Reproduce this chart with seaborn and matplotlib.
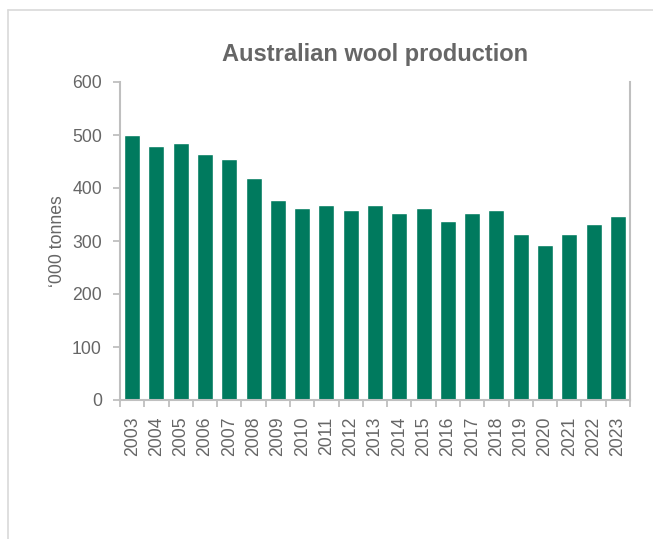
import numpy as np
import matplotlib
matplotlib.use("Agg")
import matplotlib.pyplot as plt
from matplotlib.lines import Line2D
import pandas as pd
import seaborn as sns

years = [str(y) for y in range(2003, 2024)]
production = [500, 479, 485, 464, 455, 419, 377, 362, 368, 358, 368,
              353, 362, 338, 353, 358, 313, 292, 313, 332, 347]
y_ticks = [0, 100, 200, 300, 400, 500, 600]

title = "Australian wool production"
y_label = "\u2018000 tonnes"

bar_color = "#007A5E"
text_color = "#666666"
axis_color = "#BFBFBF"

sns.set_theme(style="white")
plt.rcParams["font.family"] = ["Liberation Sans", "DejaVu Sans"]

df = pd.DataFrame({"year": years, "production": production})

fig = plt.figure(figsize=(6.53, 5.39), dpi=100)
ax = fig.add_axes([120 / 653, (539 - 400) / 539, 510 / 653, 318 / 539])

sns.barplot(data=df, x="year", y="production", color=bar_color,
            width=0.66, saturation=1, ax=ax)

ax.set_xlim(-0.5, len(years) - 0.5)
ax.set_ylim(0, 600)
ax.set_yticks(y_ticks)
ax.set_yticklabels([str(v) for v in y_ticks], fontsize=12.7, color=text_color)

# year labels at bar centres, tick marks on category boundaries
ax.set_xticks(np.arange(len(years)))
ax.set_xticklabels(years, rotation=90, fontsize=12.7, color=text_color)
ax.set_xticks(np.arange(-0.5, len(years)), minor=True)
ax.tick_params(axis="x", which="major", length=0, pad=12)
ax.tick_params(axis="x", which="minor", length=5, width=1.3,
               color=axis_color, direction="out", bottom=True)
ax.tick_params(axis="y", which="major", length=5, width=1.3,
               color=axis_color, direction="out", left=True, pad=8)

ax.set_xlabel("")
ax.set_ylabel(y_label, fontsize=12.7, color=text_color, labelpad=4.5)

for side in ["left", "bottom", "right"]:
    ax.spines[side].set_visible(True)
    ax.spines[side].set_color(axis_color)
    ax.spines[side].set_linewidth(1.5)
ax.spines["top"].set_visible(False)

fig.text(375 / 653, (539 - 61) / 539, title, ha="center", va="baseline",
         fontsize=17, fontweight="bold", color=text_color)

# light frame around the chart area
frame_kw = dict(transform=fig.transFigure, color="#D9D9D9", linewidth=1.2)
fig.add_artist(Line2D([8 / 653, 1], [1 - 9.5 / 539, 1 - 9.5 / 539], **frame_kw))
fig.add_artist(Line2D([8 / 653, 8 / 653], [0, 1 - 9.5 / 539], **frame_kw))

fig.savefig("out.png", dpi=100)
